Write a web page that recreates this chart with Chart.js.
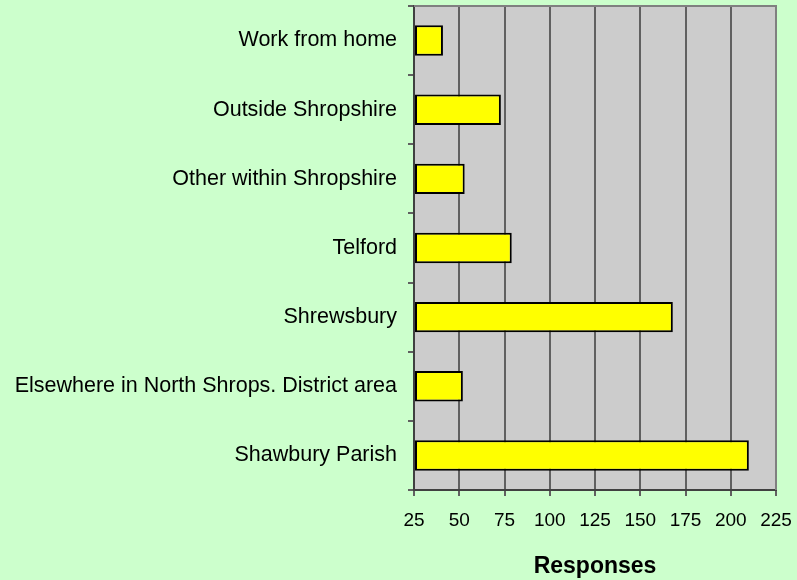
<!DOCTYPE html>
<html>
<head>
<meta charset="utf-8">
<script src="https://cdn.jsdelivr.net/npm/chart.js@4"></script>
<style>
  html, body { margin: 0; padding: 0; background: #ccffcc; }
  #wrap { width: 797px; height: 580px; }
</style>
</head>
<body>
<div id="wrap"><canvas id="chart" width="797" height="580"></canvas></div>
<script>
// categories, top to bottom
const categories = [
  "Work from home",
  "Outside Shropshire",
  "Other within Shropshire",
  "Telford",
  "Shrewsbury",
  "Elsewhere in North Shrops. District area",
  "Shawbury Parish"
];
const responses = [41, 73, 53, 79, 168, 52, 210];
const xTicks = [25, 50, 75, 100, 125, 150, 175, 200, 225];

/* ---------- backgrounds + plot frame ---------- */
const plotBackground = {
  id: "plotBackground",
  beforeDraw(chart) {
    const { ctx, chartArea: a } = chart;
    ctx.save();
    ctx.fillStyle = "#ccffcc";
    ctx.fillRect(0, 0, chart.width, chart.height);
    ctx.fillStyle = "#cccccc";
    ctx.fillRect(a.left, a.top, a.right - a.left, a.bottom - a.top);
    ctx.restore();
  },
  afterDatasetsDraw(chart) {
    const { ctx, chartArea: a } = chart;
    ctx.save();
    ctx.strokeStyle = "#808080";
    ctx.lineWidth = 2;
    ctx.beginPath();
    ctx.moveTo(a.left, a.top);
    ctx.lineTo(a.right, a.top);
    ctx.lineTo(a.right, a.bottom);
    ctx.stroke();
    ctx.restore();
  }
};

new Chart(document.getElementById("chart"), {
  type: "bar",
  data: {
    labels: categories,
    datasets: [{
      label: "Responses",
      data: responses,
      base: 25,
      backgroundColor: "#ffff00",
      borderColor: "#000000",
      borderWidth: 2,
      borderSkipped: false,
      barPercentage: 0.44,
      categoryPercentage: 1
    }]
  },
  options: {
    indexAxis: "y",
    responsive: false,
    animation: false,
    layout: { padding: { left: 0, top: 6, right: 21, bottom: 0 } },
    plugins: {
      legend: { display: false },
      tooltip: { enabled: false }
    },
    scales: {
      x: {
        min: 25,
        max: 225,
        afterBuildTicks(scale) {
          scale.ticks = xTicks.map(v => ({ value: v }));
        },
        afterFit(scale) {
          scale.height = 90;
          scale.paddingLeft = 0;
          scale.paddingRight = 0;
        },
        grid: {
          color: "#606060",
          lineWidth: 2,
          tickLength: 6,
          drawOnChartArea: true
        },
        border: { color: "#404040", width: 2 },
        ticks: {
          color: "#000",
          font: { family: "Liberation Sans, Arial, sans-serif", size: 19 },
          padding: 13,
          maxRotation: 0
        },
        title: {
          display: true,
          text: "Responses",
          color: "#000",
          font: { family: "Liberation Sans, Arial, sans-serif", size: 23, weight: "bold" },
          padding: { top: 8, bottom: 0 }
        }
      },
      y: {
        afterFit(scale) {
          scale.width = 414;
          scale.paddingTop = 0;
          scale.paddingBottom = 0;
        },
        grid: {
          offset: true,
          drawOnChartArea: false,
          color: "#606060",
          lineWidth: 2,
          tickLength: 6
        },
        border: { color: "#404040", width: 2 },
        ticks: {
          color: "#000",
          font: { family: "Liberation Sans, Arial, sans-serif", size: 21.5 },
          padding: 11
        }
      }
    }
  },
  plugins: [plotBackground]
});
</script>
</body>
</html>
